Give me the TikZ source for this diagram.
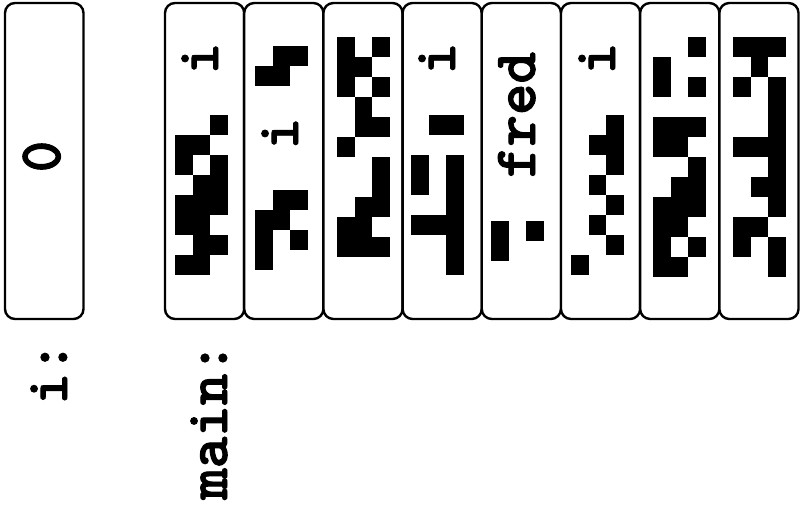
\documentclass[tikz,border=0pt]{standalone}
\usepackage{fontspec}
\newfontfamily\cmono[FakeBold=1.6]{lmmonolt10-bold.otf}
\tikzset{
  cellbox/.style={draw=black, line width=2.4pt, rounded corners=10pt, inner sep=0pt,
    minimum width=79.19pt, minimum height=316pt, fill=white},
  firstbox/.style={cellbox, minimum width=78.5pt},
  lbl/.style={rotate=90, anchor=base, inner sep=0pt, font=\fontsize{60}{66}\selectfont\cmono}
}
\begin{document}
\begin{tikzpicture}[x=1pt,y=-1pt]
\useasboundingbox (0,0) rectangle (801,514);
% boxes
\node[firstbox] (b0) at (44.25,161) {};
\foreach \k/\nm in {0/bA,1/bB,2/bC,3/bD,4/bE,5/bF,6/bG,7/bH}{
  \node[cellbox] (\nm) at ({165+79.19*(\k+0.5)},161) {};
}
% patterns
\def\cw{17.6}
% box A
\foreach \r/\c in {115/2,135/0,135/1,155/0,155/2,175/1,175/2,195/0,195/1,195/2,215/0,215/1,235/1,235/2,255/0,255/1}
  \fill (175+\c*\cw,\r) rectangle ++(\cw,20);
% box B
\foreach \r/\c in {46/1,46/2,66/0,66/1,190/1,190/2,210/0,210/1,230/0,230/2,250/0}
  \fill (255+\c*\cw,\r) rectangle ++(\cw,20);
% box C
\foreach \r/\c in {37/0,37/2,57/0,57/1,77/0,77/2,97/1,117/1,117/2,137/0,157/2,177/2,197/1,197/2,217/0,217/1,237/0,237/1,237/2}
  \fill (337+\c*\cw,\r) rectangle ++(\cw,20);
% box D
\foreach \r/\c in {115/1,115/2,155/0,155/2,175/0,175/2,195/2,215/0,215/1,215/2,235/2,255/2}
  \fill (411+\c*\cw,\r) rectangle ++(\cw,20);
% box E
\foreach \r/\c in {221/0,221/2,241/0}
  \fill (491+\c*\cw,\r) rectangle ++(\cw,20);
% box F
\foreach \r/\c in {115/2,135/1,135/2,155/2,175/1,195/2,215/1,235/2,255/0}
  \fill (571+\c*\cw,\r) rectangle ++(\cw,20);
% box G
\foreach \r/\c in {37/2,57/0,77/0,77/2,117/0,117/1,117/2,137/0,137/1,157/2,177/1,177/2,197/0,197/1,197/2,217/0,217/1,237/0,237/2,257/0,257/1}
  \fill (653+\c*\cw,\r) rectangle ++(\cw,20);
% box H
\foreach \r/\c in {37/0,37/1,37/2,57/1,77/0,77/2,97/2,117/2,137/0,137/1,137/2,157/2,177/1,177/2,197/2,217/0,217/1,237/0,237/2,257/2}
  \fill (733+\c*\cw,\r) rectangle ++(\cw,20);
% labels
\node[lbl] (t0) at (60,156.5) {0};
\node[lbl] (ti) at (67,373) {i:};
\node[lbl] (tmain) at (227,421) {main:};
\node[lbl] (tfred) at (535,115) {fred};
\node[lbl] (iA) at (218,58.5) {i};
\node[lbl] (iB) at (298,133.5) {i};
\node[lbl] (iD) at (455,58.5) {i};
\node[lbl] (iF) at (615,58.5) {i};
\end{tikzpicture}
\end{document}
